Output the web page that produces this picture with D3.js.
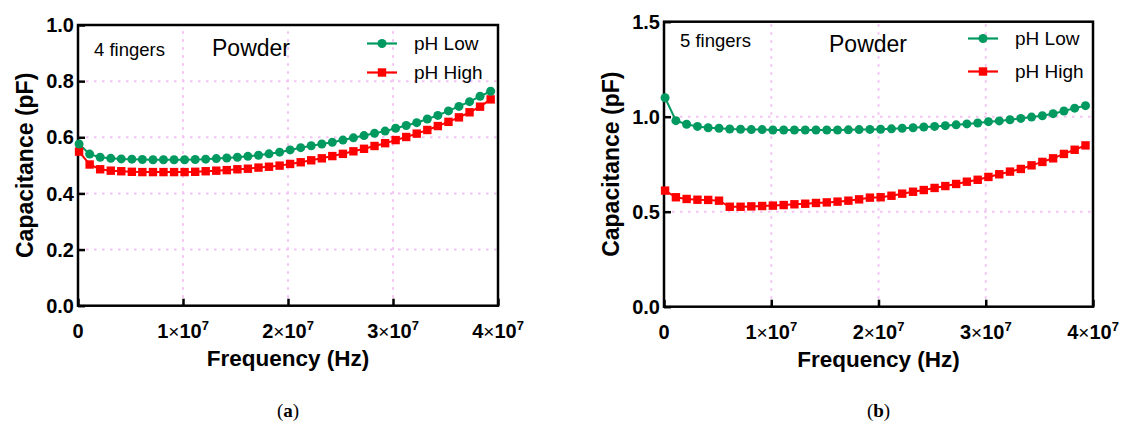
<!DOCTYPE html>
<html><head><meta charset="utf-8">
<script src="https://cdn.jsdelivr.net/npm/d3@7"></script>
<style>html,body{margin:0;padding:0;background:#fff;} svg{display:block;}</style>
</head><body>
<svg id="chart" width="1127" height="426"></svg>
<script>
// Frequency sweep (MHz)
const freqMHz = [0.10,1.11,2.11,3.12,4.12,5.13,6.13,7.14,8.14,9.15,10.15,11.16,12.16,13.17,14.17,15.18,16.18,17.19,18.19,19.20,20.20,21.21,22.21,23.22,24.22,25.23,26.23,27.24,28.24,29.25,30.25,31.26,32.26,33.27,34.27,35.28,36.28,37.29,38.29,39.30];
// (a) 4 fingers
const aLow  = [0.576,0.540,0.529,0.525,0.523,0.522,0.521,0.520,0.520,0.520,0.520,0.521,0.522,0.524,0.526,0.529,0.532,0.536,0.541,0.547,0.555,0.563,0.570,0.576,0.582,0.590,0.598,0.606,0.614,0.622,0.632,0.642,0.652,0.665,0.678,0.694,0.710,0.727,0.746,0.764];
const aHigh = [0.549,0.503,0.486,0.481,0.479,0.477,0.476,0.476,0.476,0.476,0.476,0.477,0.479,0.481,0.483,0.486,0.488,0.492,0.495,0.499,0.505,0.511,0.518,0.525,0.533,0.541,0.550,0.559,0.569,0.579,0.590,0.601,0.613,0.626,0.640,0.655,0.671,0.689,0.709,0.735];
// (b) 5 fingers
const bLow  = [1.100,0.979,0.960,0.949,0.942,0.939,0.935,0.934,0.932,0.932,0.930,0.930,0.930,0.930,0.930,0.930,0.930,0.931,0.932,0.933,0.934,0.936,0.939,0.942,0.946,0.949,0.953,0.957,0.962,0.967,0.974,0.978,0.984,0.991,0.998,1.005,1.016,1.030,1.045,1.058];
const bHigh = [0.611,0.576,0.567,0.563,0.562,0.558,0.526,0.526,0.528,0.530,0.532,0.535,0.539,0.542,0.546,0.549,0.553,0.558,0.565,0.574,0.576,0.584,0.595,0.605,0.614,0.625,0.635,0.646,0.658,0.668,0.683,0.697,0.711,0.725,0.744,0.762,0.781,0.804,0.826,0.849];
const xTicks = [0, 1e7, 2e7, 3e7, 4e7];
const xTickMant = ["0","1","2","3","4"];
const aYTicks = [0.0,0.2,0.4,0.6,0.8,1.0];
const bYTicks = [0.0,0.5,1.0,1.5];
const seriesNames = ["pH Low","pH High"];
const panelNotes = ["4 fingers","5 fingers"];
const mainNote = "Powder";
const captions = ["a","b"];

const GREEN = "#00995f", RED = "#ff0000", GRID = "#f3c4f3";
const FONT = "Arial, 'Liberation Sans', sans-serif";
const svg = d3.select("#chart");

function panel(cfg) {
  const x = d3.scaleLinear().domain([0, 4e7]).range([cfg.x0, cfg.x1]);
  const y = d3.scaleLinear().domain([0, cfg.ymax]).range([cfg.y0, cfg.y1]);
  const g = svg.append("g");
  // grid
  g.selectAll(".gy").data(cfg.yTicks.filter(v => v > 0 && v < cfg.ymax)).join("line")
    .attr("x1", cfg.x0).attr("x2", cfg.x1).attr("y1", d => y(d)).attr("y2", d => y(d))
    .attr("stroke", GRID).attr("stroke-width", 2).attr("stroke-dasharray", "2.5,5.5");
  g.selectAll(".gx").data(xTicks.filter(v => v > 0 && v < 4e7)).join("line")
    .attr("y1", cfg.y0).attr("y2", cfg.y1).attr("x1", d => x(d)).attr("x2", d => x(d))
    .attr("stroke", GRID).attr("stroke-width", 2).attr("stroke-dasharray", "2.5,5.5");
  // axes
  const ax = g.append("g").attr("transform", `translate(0,${cfg.y0})`)
    .call(d3.axisBottom(x).tickValues(xTicks).tickSize(-7).tickFormat(""));
  const ay = g.append("g").attr("transform", `translate(${cfg.x0},0)`)
    .call(d3.axisLeft(y).tickValues(cfg.yTicks).tickSize(-7).tickFormat(""));
  [ax, ay].forEach(a => {
    a.select(".domain").remove();
    a.selectAll("line").attr("stroke", "#000").attr("stroke-width", 2.5);
  });
  // frame
  g.append("rect").attr("x", cfg.x0).attr("y", cfg.y1).attr("width", cfg.x1 - cfg.x0).attr("height", cfg.y0 - cfg.y1)
    .attr("fill", "none").attr("stroke", "#000").attr("stroke-width", 2.5);
  // y tick labels
  g.selectAll(".yl").data(cfg.yTicks).join("text")
    .attr("x", cfg.x0 - 4).attr("y", d => y(d)).attr("dy", "0.36em")
    .attr("text-anchor", "end").attr("font-family", FONT).attr("font-weight", "bold").attr("font-size", 20)
    .text(d => d3.format(".1f")(d));
  // x tick labels
  const xl = g.selectAll(".xl").data(xTicks).join("text")
    .attr("x", d => x(d)).attr("y", cfg.y0 + 32)
    .attr("text-anchor", "middle").attr("font-family", FONT).attr("font-weight", "bold").attr("font-size", 20);
  xl.each(function(d, i) {
    const t = d3.select(this);
    if (d === 0) { t.text("0"); return; }
    t.append("tspan").text(xTickMant[i]);
    t.append("tspan").attr("font-weight", "normal").attr("font-size", 19).text("\u00d7");
    t.append("tspan").text("10");
    t.append("tspan").attr("font-size", 13).attr("dy", -8).text("7");
  });
  // axis titles
  g.append("text").attr("x", (cfg.x0 + cfg.x1) / 2).attr("y", cfg.y0 + cfg.xlabDy)
    .attr("text-anchor", "middle").attr("font-family", FONT).attr("font-weight", "bold").attr("font-size", 22.5)
    .text("Frequency (Hz)");
  g.append("text").attr("transform", `translate(${cfg.ylabX},${(cfg.y0 + cfg.y1) / 2}) rotate(-90)`)
    .attr("text-anchor", "middle").attr("font-family", FONT).attr("font-weight", "bold").attr("font-size", 23)
    .text("Capacitance (pF)");
  // series
  const line = d3.line().x((d, i) => x(freqMHz[i] * 1e6)).y(d => y(d));
  g.append("path").datum(cfg.low).attr("d", line).attr("fill", "none").attr("stroke", GREEN).attr("stroke-width", 2);
  g.append("path").datum(cfg.high).attr("d", line).attr("fill", "none").attr("stroke", RED).attr("stroke-width", 2);
  g.selectAll(".mh").data(cfg.high).join("rect")
    .attr("x", (d, i) => x(freqMHz[i] * 1e6) - 4.2).attr("y", d => y(d) - 4.2)
    .attr("width", 8.4).attr("height", 8.4).attr("fill", RED);
  g.selectAll(".ml").data(cfg.low).join("circle")
    .attr("cx", (d, i) => x(freqMHz[i] * 1e6)).attr("cy", d => y(d)).attr("r", 4.5).attr("fill", GREEN);
  // annotations
  g.append("text").attr("x", cfg.noteX).attr("y", cfg.noteY).attr("font-family", FONT).attr("font-size", 18.5).text(cfg.note);
  g.append("text").attr("x", cfg.powX).attr("y", cfg.powY).attr("font-family", FONT).attr("font-size", 23).text(mainNote);
  // legend
  const lg = [[GREEN, "c"], [RED, "s"]];
  lg.forEach((s, k) => {
    const ly = cfg.legY + k * cfg.legDy;
    g.append("line").attr("x1", cfg.legX).attr("x2", cfg.legX + 30).attr("y1", ly).attr("y2", ly)
      .attr("stroke", s[0]).attr("stroke-width", 2.2);
    if (s[1] === "c") g.append("circle").attr("cx", cfg.legX + 15).attr("cy", ly).attr("r", 4.5).attr("fill", s[0]);
    else g.append("rect").attr("x", cfg.legX + 10.8).attr("y", ly - 4.2).attr("width", 8.4).attr("height", 8.4).attr("fill", s[0]);
    g.append("text").attr("x", cfg.legX + 47).attr("y", ly).attr("dy", "0.36em")
      .attr("font-family", FONT).attr("font-size", 19).text(seriesNames[k]);
  });
  // caption
  const cap = g.append("text").attr("x", (cfg.x0 + cfg.x1) / 2).attr("y", 417).attr("text-anchor", "middle")
    .attr("font-family", "'Liberation Serif', 'DejaVu Serif', serif").attr("font-size", 19);
  cap.append("tspan").text("(");
  cap.append("tspan").attr("font-weight", "bold").text(cfg.caption);
  cap.append("tspan").text(")");
}

panel({x0: 78, x1: 498, y0: 305.7, y1: 25, ymax: 1.0, yTicks: aYTicks, low: aLow, high: aHigh,
  ylabX: 33, xlabDy: 60, note: panelNotes[0], noteX: 94, noteY: 56, powX: 212, powY: 56,
  legX: 367, legY: 43.5, legDy: 29, caption: captions[0]});
panel({x0: 664, x1: 1093, y0: 306.7, y1: 21.7, ymax: 1.5, yTicks: bYTicks, low: bLow, high: bHigh,
  ylabX: 619, xlabDy: 60, note: panelNotes[1], noteX: 680, noteY: 47, powX: 829, powY: 52,
  legX: 968, legY: 38.5, legDy: 33, caption: captions[1]});
</script>
</body></html>
